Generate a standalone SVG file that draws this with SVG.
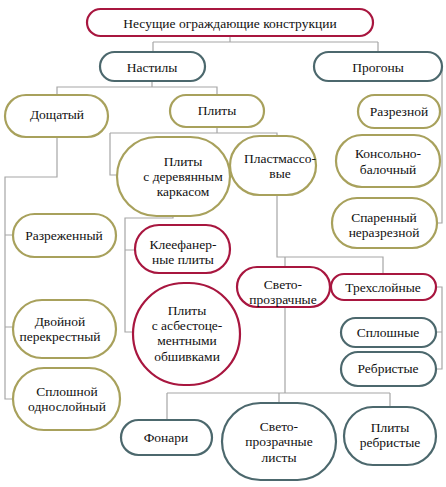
<svg xmlns="http://www.w3.org/2000/svg" width="446" height="487" viewBox="0 0 446 487">
<style>
.c{fill:none;stroke:#a6a6a6;stroke-width:1.2}
.n{fill:#fff;stroke-width:2.2}
.r{stroke:#a8163f}
.t{stroke:#4c686d}
.o{stroke:#a8a15c}
text{font-family:'Liberation Serif','DejaVu Serif',serif;font-size:13.5px;fill:#111;text-anchor:middle}
</style>
<rect width="446" height="487" fill="#fff"/>
<g id="connectors" class="c">
<path d="M230 36V42M153 42H378M153 42V52M378 42V52"/>
<path d="M152 81V87M57 95V87H217V95"/>
<path d="M217 127V133M110 133H277V136M110 133V175H118"/>
<path d="M57 137V177H5V399H13M5 235H13M5 327H13"/>
<path d="M442 70V223H437"/>
<path d="M173 216V218H125V332H133M125 250H135"/>
<path d="M277 195V257H383V274M285 257V267"/>
<path d="M285 307V393M167 393H390M167 393V420M279 393V403M390 393V407"/>
<path d="M436 287H442V369H436M436 332H442"/>
</g>
<g id="n1"><rect class="n r" x="87" y="9" width="286" height="27" rx="13.5"/><text x="230" y="28">Несущие ограждающие конструкции</text></g>
<g id="n2"><rect class="n t" x="100" y="52" width="105" height="29" rx="14.5"/><text x="152" y="72">Настилы</text></g>
<g id="n3"><rect class="n t" x="314" y="52" width="128" height="29" rx="14.5"/><text x="378" y="72">Прогоны</text></g>
<g id="n4"><rect class="n o" x="5" y="95" width="103" height="42" rx="21"/><text x="57" y="119">Дощатый</text></g>
<g id="n5"><rect class="n o" x="170" y="95" width="94" height="32" rx="16"/><text x="217" y="115">Плиты</text></g>
<g id="n6"><rect class="n o" x="358" y="95" width="82" height="33" rx="16.5"/><text x="399" y="116">Разрезной</text></g>
<g id="n8"><rect class="n o" x="230" y="136" width="86" height="59" rx="29.5"/><text x="280" y="163">Пластмассо-</text><text x="280" y="178">вые</text></g>
<g id="n7"><rect class="n o" x="117" y="137" width="113" height="79" rx="39.5"/><text x="183" y="166">Плиты</text><text x="183" y="181">с деревянным</text><text x="183" y="196">каркасом</text></g>
<g id="n9"><rect class="n o" x="336" y="135" width="104" height="52" rx="26"/><text x="388" y="158">Консольно-</text><text x="388" y="174">балочный</text></g>
<g id="n10"><rect class="n o" x="332" y="198" width="105" height="50" rx="25"/><text x="384" y="222">Спаренный</text><text x="384" y="237">неразрезной</text></g>
<g id="n11"><rect class="n o" x="13" y="214" width="103" height="43" rx="21.5"/><text x="64" y="240">Разреженный</text></g>
<g id="n12"><rect class="n r" x="135" y="225" width="95" height="48" rx="24"/><text x="183" y="249">Клеефанер-</text><text x="183" y="264">ные плиты</text></g>
<g id="n13"><rect class="n r" x="133" y="283" width="107" height="102" rx="51"/><text x="187" y="315">Плиты</text><text x="187" y="330">с асбестоце-</text><text x="187" y="345">ментными</text><text x="187" y="361">обшивками</text></g>
<g id="n14"><rect class="n r" x="237" y="267" width="93" height="40" rx="20"/><text x="283" y="289">Свето-</text><text x="283" y="304">прозрачные</text></g>
<g id="n15"><rect class="n r" x="331" y="274" width="105" height="26" rx="13"/><text x="383" y="292">Трехслойные</text></g>
<g id="n16"><rect class="n t" x="341" y="318" width="95" height="29" rx="14.5"/><text x="388" y="337">Сплошные</text></g>
<g id="n17"><rect class="n t" x="341" y="352" width="95" height="34" rx="17"/><text x="388" y="373">Ребристые</text></g>
<g id="n18"><rect class="n o" x="13" y="300" width="103" height="58" rx="29"/><text x="60" y="326">Двойной</text><text x="60" y="341">перекрестный</text></g>
<g id="n19"><rect class="n o" x="13" y="368" width="107" height="62" rx="31"/><text x="67" y="396">Сплошной</text><text x="67" y="411">однослойный</text></g>
<g id="n20"><rect class="n t" x="121" y="420" width="91" height="35" rx="17.5"/><text x="166" y="442">Фонари</text></g>
<g id="n21"><rect class="n t" x="222" y="403" width="114" height="77" rx="38.5"/><text x="279" y="431">Свето-</text><text x="279" y="446">прозрачные</text><text x="279" y="462">листы</text></g>
<g id="n22"><rect class="n t" x="344" y="407" width="92" height="58" rx="29"/><text x="390" y="432">Плиты</text><text x="390" y="447">ребристые</text></g>
</svg>
